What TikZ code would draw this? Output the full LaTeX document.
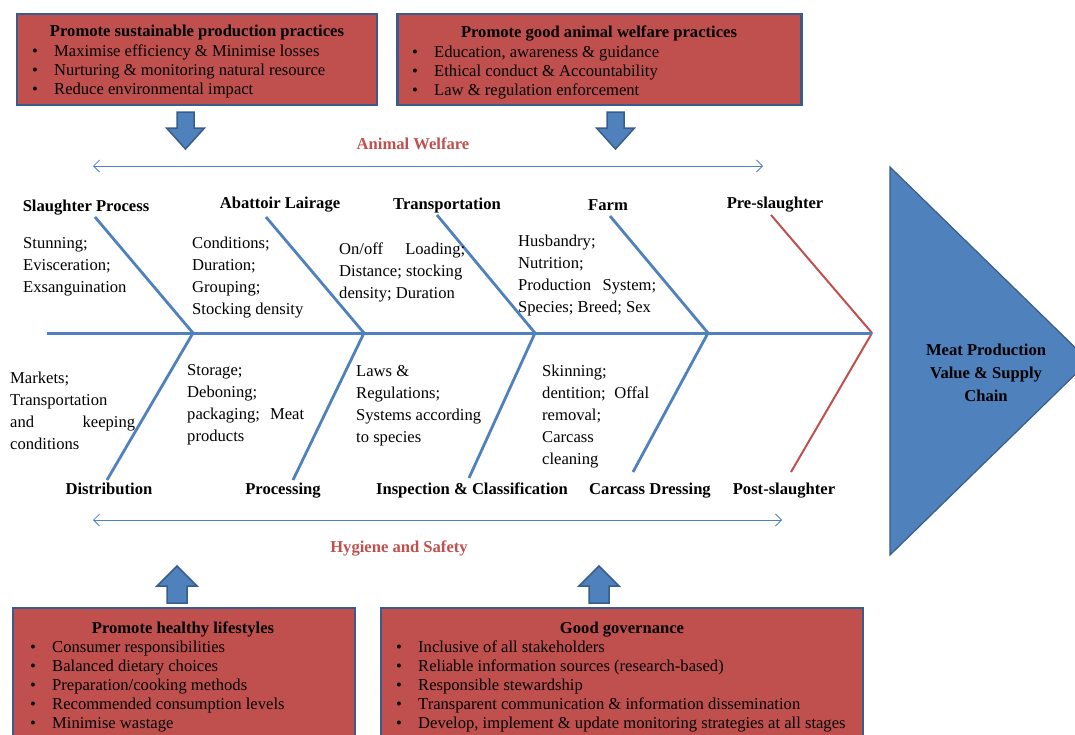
\documentclass[tikz,border=0pt]{standalone}
\usepackage{fontspec}
\setmainfont{Liberation Serif}
\usepackage{xcolor}
\usepackage{tikz}
\usetikzlibrary{arrows.meta}

\definecolor{boxred}{HTML}{C0504D}
\definecolor{boxedge}{HTML}{385D8A}
\definecolor{fishblue}{HTML}{4F81BD}

\newcommand{\bul}[1]{\makebox[22pt][l]{\textbullet}#1}
\newcommand{\jline}[2]{\makebox[#1][s]{#2}}

\tikzset{
  every node/.style={inner sep=0pt, font=\fontsize{16.6}{19}\selectfont},
  redbox/.style={draw=boxedge, line width=2.2pt, fill=boxred},
  boxtitle/.style={font=\fontsize{16.6}{19}\selectfont\bfseries, text height=13pt, text depth=1pt},
  boxlist/.style={align=left, anchor=north west},
  bonetxt/.style={align=left, anchor=north west, font=\fontsize{16.6}{22}\selectfont},
  bonelbl/.style={font=\fontsize{16.6}{19}\selectfont\bfseries, text height=13pt, text depth=1pt},
  themelbl/.style={bonelbl, text=boxred},
  spine/.style={draw=fishblue, line width=3pt},
  bone/.style={draw=fishblue, line width=2.8pt},
  redbone/.style={draw=boxred, line width=2pt},
  span/.style={draw=fishblue, line width=0.8pt, {Straight Barb[length=6pt,width=12pt]}-{Straight Barb[length=6pt,width=12pt]}},
  blockarrow/.style={draw=boxedge, line width=1.5pt, fill=fishblue},
  down arrow/.pic={\draw[blockarrow] (-8.5,0) -- (8.5,0) -- (8.5,16) -- (19,16) -- (0,37) -- (-19,16) -- (-8.5,16) -- cycle;},
  up arrow/.pic={\draw[blockarrow] (-10,0) -- (10,0) -- (10,-17) -- (20,-17) -- (0,-37) -- (-20,-17) -- (-10,-17) -- cycle;}
}

\begin{document}
\begin{tikzpicture}[x=1pt,y=-1pt]
\useasboundingbox (0,0) rectangle (1075,734);
\clip (0,0) rectangle (1075,734);

% boxes on top
\node[redbox, minimum width=360pt, minimum height=91pt] (prod) at (197,59.5) {};
\node[boxtitle] (prod-t) at (197,30) {Promote sustainable production practices};
\node[boxlist] (prod-l) at (32,45) {\bul{Maximise efficiency \& Minimise losses}\\
  \bul{Nurturing \& monitoring natural resource}\\
  \bul{Reduce environmental impact}};

\node[redbox, minimum width=404pt, minimum height=91pt] (welf) at (599.5,59.5) {};
\node[boxtitle] (welf-t) at (599,31) {Promote good animal welfare practices};
\node[boxlist] (welf-l) at (412,46) {\bul{Education, awareness \& guidance}\\
  \bul{Ethical conduct \& Accountability}\\
  \bul{Law \& regulation enforcement}};

\pic at (185.5,112) {down arrow};
\pic at (615.5,112) {down arrow};

% animal welfare span
\node[themelbl] (aw) at (413,143) {Animal Welfare};
\coordinate (aw-l) at (93,166);
\coordinate (aw-r) at (763,166);
\draw[span] (aw-l) -- (aw-r);

% spine and joints
\coordinate (tail) at (47,333);
\coordinate (head) at (872,333);
\coordinate (j1) at (193,333);
\coordinate (j2) at (364,333);
\coordinate (j3) at (535,333);
\coordinate (j4) at (708,333);

% upper bones
\coordinate (u1) at (95,217);
\coordinate (u2) at (266,217);
\coordinate (u3) at (437,215);
\coordinate (u4) at (610,216);
\coordinate (u5) at (771,215);
\draw[bone] (u1) -- (j1);
\draw[bone] (u2) -- (j2);
\draw[bone] (u3) -- (j3);
\draw[bone] (u4) -- (j4);
\draw[redbone] (u5) -- (head);

% lower bones
\coordinate (d1) at (107,480);
\coordinate (d2) at (293,480);
\coordinate (d3) at (469,478);
\coordinate (d4) at (633,472);
\coordinate (d5) at (791,472);
\draw[bone] (j1) -- (d1);
\draw[bone] (j2) -- (d2);
\draw[bone] (j3) -- (d3);
\draw[bone] (j4) -- (d4);
\draw[redbone] (head) -- (d5);

\draw[spine] (tail) -- (head);

% upper labels
\node[bonelbl] (slaughter) at (86,205) {Slaughter Process};
\node[bonelbl] (lairage) at (280,202) {Abattoir Lairage};
\node[bonelbl] (transport) at (447,203) {Transportation};
\node[bonelbl] (farm) at (608,204) {Farm};
\node[bonelbl] (pre) at (775,202) {Pre-slaughter};

\node[bonetxt] (slaughter-x) at (23,237) {Stunning;\\Evisceration;\\Exsanguination};
\node[bonetxt] (lairage-x) at (192,237) {Conditions;\\Duration;\\Grouping;\\Stocking density};
\node[bonetxt] (transport-x) at (339,243) {\jline{126pt}{On/off Loading;}\\Distance; stocking\\density; Duration};
\node[bonetxt] (farm-x) at (518,235) {Husbandry;\\Nutrition;\\\jline{138pt}{Production System;}\\Species; Breed; Sex};

% lower labels
\node[bonelbl] (distrib) at (109,488) {Distribution};
\node[bonelbl] (process) at (283,488) {Processing};
\node[bonelbl] (inspect) at (472,488) {Inspection \& Classification};
\node[bonelbl] (dressing) at (650,488) {Carcass Dressing};
\node[bonelbl] (post) at (784,488) {Post-slaughter};

\node[bonetxt] (distrib-x) at (10,372) {Markets;\\Transportation\\\jline{125pt}{and keeping}\\conditions};
\node[bonetxt] (process-x) at (187,364) {Storage;\\Deboning;\\\jline{117pt}{packaging; Meat}\\products};
\node[bonetxt] (inspect-x) at (356,365) {Laws \&\\Regulations;\\Systems according\\to species};
\node[bonetxt] (dressing-x) at (542,365) {Skinning;\\\jline{107pt}{dentition; Offal}\\removal;\\Carcass\\cleaning};

% hygiene span
\coordinate (hs-l) at (93,520);
\coordinate (hs-r) at (782,520);
\draw[span] (hs-l) -- (hs-r);
\node[themelbl] (hs) at (399,546) {Hygiene and Safety};

% head of the fish
\draw[blockarrow, line width=1.2pt] (890,167) -- (1089,361) -- (890,555) -- cycle;
\node[align=center, font=\fontsize{16.6}{23}\selectfont\bfseries] (chain) at (986,373) {Meat Production\\Value \& Supply\\Chain};

\pic at (177,603) {up arrow};
\pic at (599,603) {up arrow};

% boxes at the bottom
\node[redbox, minimum width=342pt, minimum height=140pt] (life) at (184,678) {};
\node[boxtitle] (life-t) at (183,627) {Promote healthy lifestyles};
\node[boxlist] (life-l) at (30,641) {\bul{Consumer responsibilities}\\
  \bul{Balanced dietary choices}\\
  \bul{Preparation/cooking methods}\\
  \bul{Recommended consumption levels}\\
  \bul{Minimise wastage}};

\node[redbox, minimum width=482pt, minimum height=140pt] (gov) at (622,678) {};
\node[boxtitle] (gov-t) at (622,627) {Good governance};
\node[boxlist] (gov-l) at (396,641) {\bul{Inclusive of all stakeholders}\\
  \bul{Reliable information sources (research-based)}\\
  \bul{Responsible stewardship}\\
  \bul{Transparent communication \& information dissemination}\\
  \bul{Develop, implement \& update monitoring strategies at all stages}};

\end{tikzpicture}
\end{document}
